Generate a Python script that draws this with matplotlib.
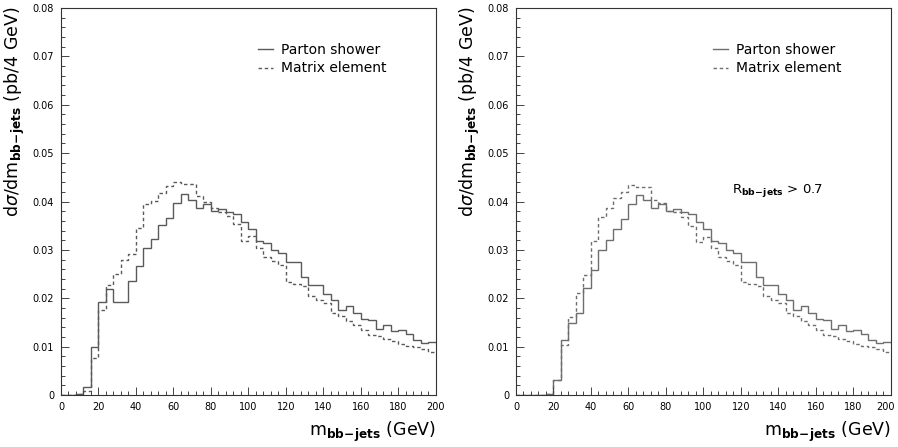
import numpy as np
import matplotlib
matplotlib.use('Agg')
import matplotlib.pyplot as plt
from matplotlib.ticker import MultipleLocator, FuncFormatter
from matplotlib.transforms import ScaledTranslation

# 4 GeV bins from 0 to 200 GeV
bin_edges = np.arange(0, 201, 4)

# left panel (no cut)
ps_left = [0, 0, 0.0002, 0.0016, 0.0100, 0.0193, 0.0219, 0.0193, 0.0193, 0.0235,
           0.0267, 0.0303, 0.0322, 0.0351, 0.0366, 0.0396, 0.0415, 0.0404, 0.0386, 0.0395,
           0.0381, 0.0384, 0.0378, 0.0375, 0.0357, 0.0344, 0.0319, 0.0314, 0.0299, 0.0293,
           0.0275, 0.0275, 0.0243, 0.0227, 0.0227, 0.0208, 0.0197, 0.0176, 0.0184, 0.0169,
           0.0157, 0.0155, 0.0136, 0.0145, 0.0132, 0.0134, 0.0126, 0.0114, 0.0107, 0.0109]
me_left = [0, 0, 0.0002, 0.0008, 0.0076, 0.0176, 0.0228, 0.0251, 0.0279, 0.0291,
           0.0346, 0.0394, 0.0401, 0.0417, 0.0433, 0.0441, 0.0437, 0.0437, 0.0412, 0.0400,
           0.0386, 0.0379, 0.0370, 0.0354, 0.0319, 0.0328, 0.0304, 0.0285, 0.0278, 0.0268,
           0.0233, 0.0229, 0.0226, 0.0205, 0.0197, 0.0190, 0.0169, 0.0164, 0.0154, 0.0145,
           0.0135, 0.0124, 0.0121, 0.0116, 0.0111, 0.0106, 0.0101, 0.0100, 0.0095, 0.0088]

# right panel (R_bb-jets > 0.7)
ps_right = [0, 0, 0, 0, 0.0003, 0.0032, 0.0114, 0.0148, 0.0170, 0.0221,
            0.0259, 0.0299, 0.0320, 0.0344, 0.0363, 0.0394, 0.0414, 0.0403, 0.0386, 0.0394,
            0.0381, 0.0384, 0.0378, 0.0375, 0.0357, 0.0343, 0.0319, 0.0314, 0.0299, 0.0293,
            0.0275, 0.0275, 0.0243, 0.0227, 0.0227, 0.0208, 0.0197, 0.0176, 0.0184, 0.0169,
            0.0157, 0.0155, 0.0136, 0.0145, 0.0132, 0.0134, 0.0126, 0.0114, 0.0107, 0.0109]
me_right = [0, 0, 0, 0, 0.0002, 0.0032, 0.0103, 0.0162, 0.0210, 0.0248,
            0.0319, 0.0369, 0.0386, 0.0407, 0.0420, 0.0434, 0.0431, 0.0431, 0.0403, 0.0397,
            0.0381, 0.0379, 0.0369, 0.0350, 0.0317, 0.0326, 0.0304, 0.0285, 0.0278, 0.0268,
            0.0233, 0.0229, 0.0226, 0.0205, 0.0197, 0.0190, 0.0169, 0.0164, 0.0154, 0.0145,
            0.0135, 0.0124, 0.0121, 0.0116, 0.0111, 0.0106, 0.0101, 0.0100, 0.0095, 0.0088]


def yfmt(v, pos):
    return '0' if abs(v) < 1e-9 else f'{v:.2f}'


def draw_panel(ax, ps, me, color):
    ax.stairs(ps, bin_edges, baseline=None, color=color, lw=1.0, label='Parton shower')
    ax.stairs(me, bin_edges, baseline=None, color=color, lw=1.0,
              linestyle=(0, (2.5, 2)), label='Matrix element')
    ax.set_xlim(0, 200)
    ax.set_ylim(0, 0.08)
    ax.xaxis.set_major_locator(MultipleLocator(20))
    ax.xaxis.set_minor_locator(MultipleLocator(4))
    ax.yaxis.set_major_locator(MultipleLocator(0.01))
    ax.yaxis.set_minor_locator(MultipleLocator(0.002))
    ax.yaxis.set_major_formatter(FuncFormatter(yfmt))
    ax.tick_params(which='both', direction='in', top=False, right=False,
                   labelsize=7, width=0.7, color='#444444')
    ax.tick_params(which='major', length=6, pad=5)
    ax.tick_params(which='minor', length=3)
    for s in ax.spines.values():
        s.set_linewidth(0.8)
        s.set_color('#333333')
    ax.legend(loc='upper left', bbox_to_anchor=(0.51, 0.925), frameon=False,
              fontsize=10, handlelength=1.1, handletextpad=0.6, labelspacing=0.35,
              borderaxespad=0)


fig = plt.figure(figsize=(8.98, 4.47), dpi=100)
ax1 = fig.add_axes([0.0679, 0.1163, 0.4176, 0.8658])
ax2 = fig.add_axes([0.5746, 0.1163, 0.4176, 0.8658])

draw_panel(ax1, ps_left, me_left, '#5a5a5a')
draw_panel(ax2, ps_right, me_right, '#6e6e6e')

ax2.text(115, 0.0422, r'$\mathrm{R}_{\mathbf{bb\!-\!jets}}$ > 0.7', fontsize=9.5,
         va='center', ha='left')

ylab = r'd$\sigma$/dm$_{\mathbf{bb\!-\!jets}}$ (pb/4 GeV)'
xlab = r'm$_{\mathbf{bb\!-\!jets}}$ (GeV)'
for ax, xl in ((ax1, 0.0167), (ax2, 0.523)):
    fig.text(xl, 0.985, ylab, rotation=90, ha='center', va='top', fontsize=12.5)
    ax.set_xlabel(xlab, fontsize=12.5, loc='right', labelpad=6)

# keep the last "200" label of the right panel inside the figure
fig.canvas.draw()
last = [t for t in ax2.get_xticklabels() if t.get_text() == '200']
for t in last:
    t.set_transform(t.get_transform() + ScaledTranslation(-4 / 72, 0, fig.dpi_scale_trans))

fig.savefig('out.png', dpi=100)
